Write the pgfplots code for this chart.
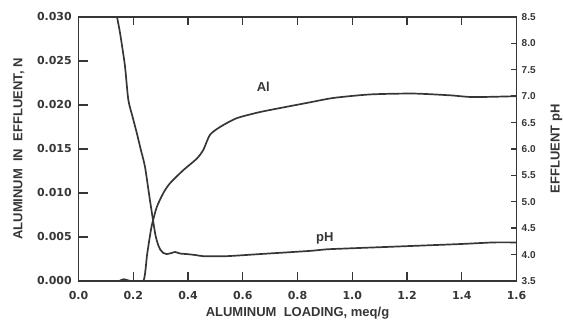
\documentclass[border=0pt]{standalone}
\usepackage{pgfplots}
\pgfplotsset{compat=1.18}
\usepackage{fontspec}
\setmainfont{Liberation Sans}
\newfontfamily\tickfont{DejaVu Sans}
\definecolor{ink}{HTML}{363636}
\newcommand{\lblfont}{\bfseries\fontsize{13}{15}\selectfont}
\newcommand{\tkfont}{\tickfont\bfseries\fontsize{11}{13}\selectfont}
\newcommand{\tkfontR}{\bfseries\fontsize{10}{12}\selectfont}

\pgfplotsset{
  common/.style={
    scale only axis, width=438pt, height=264pt,
    xmin=0, xmax=1.6,
    axis line style={ink, line width=1.6pt},
    tick align=inside,
    every tick/.style={draw=ink, line width=1.4pt},
    every tick label/.append style={text=ink, inner sep=0pt},
    /pgf/number format/assume math mode=true,
  },
  tickline/.style={ink, line width=1.4pt, forget plot},
}

\begin{document}
\begin{tikzpicture}
% aluminium concentration, left scale
\begin{axis}[common,
  name=al,
  ymin=0, ymax=0.030,
  xtick={0,0.2,...,1.6},
  xtick pos=both,
  xticklabel pos=bottom,
  major tick length=8.5pt,
  x tick label style={font=\tkfont, anchor=north, yshift=-10.5pt,
    /pgf/number format/fixed, /pgf/number format/fixed zerofill,
    /pgf/number format/precision=1},
  ytick={0,0.005,...,0.030},
  ytick pos=left,
  y tick label style={font=\tkfont, anchor=east, xshift=-6.5pt,
    /pgf/number format/fixed, /pgf/number format/fixed zerofill,
    /pgf/number format/precision=3},
  scaled y ticks=false,
  xlabel={ALUMINUM\ \ LOADING, meq/g},
  ylabel={ALUMINUM\ \ IN\ \ EFFLUENT, N},
  xlabel style={font=\lblfont, text=ink, at={(axis description cs:0.5,0)},
    anchor=base, yshift=-35.5pt, inner sep=0pt},
  ylabel style={font=\lblfont, text=ink, at={(axis description cs:0,0.5)},
    anchor=center, yshift=59.5pt, inner sep=0pt},
]
% inward tick strokes: bottom and top edges (about 8pt long)
\pgfplotsinvokeforeach{0.2,0.4,0.6,0.8,1.0,1.2,1.4}{
  \addplot[tickline] coordinates {(#1,0) (#1,0.00091)};
  \addplot[tickline] coordinates {(#1,0.030) (#1,0.02909)};
}
% inward tick strokes: left edge (about 9pt long)
\pgfplotsinvokeforeach{0.005,0.010,0.015,0.020,0.025}{
  \addplot[tickline] coordinates {(0,#1) (0.033,#1)};
}
\addplot[ink, line width=1.7pt, smooth, tension=0.4] coordinates {
  (0.000,0.0000) (0.140,0.0000) (0.155,0.0001) (0.165,0.0002) (0.178,0.0001)
  (0.190,0.0000) (0.237,0.0000) (0.251,0.0031) (0.267,0.0062) (0.286,0.0084)
  (0.310,0.0100) (0.334,0.0111) (0.383,0.0126) (0.432,0.0139) (0.456,0.0149)
  (0.480,0.0166) (0.517,0.0175) (0.578,0.0185) (0.663,0.0192) (0.761,0.0198)
  (0.845,0.0203) (0.931,0.0208) (1.065,0.0212) (1.223,0.0213) (1.357,0.0211)
  (1.442,0.0209) (1.600,0.0210)
};
\node[font=\lblfont, text=ink] at (axis cs:0.675,0.0221) {Al};
\node[font=\lblfont, text=ink] at (axis cs:0.90,0.00485) {pH};
\end{axis}

% effluent pH, right scale
\begin{axis}[common,
  at={(al.south west)}, anchor=south west,
  ymin=3.5, ymax=8.5,
  axis x line=none,
  axis y line*=right,
  ytick={3.5,4.0,...,8.5},
  ytick pos=right,
  major tick length=5.5pt,
  y tick label style={font=\tkfontR, anchor=west, xshift=5pt,
    /pgf/number format/fixed, /pgf/number format/fixed zerofill,
    /pgf/number format/precision=1},
  ylabel={EFFLUENT pH},
  ylabel style={font=\lblfont, text=ink, at={(axis description cs:1,0.5)},
    anchor=center, yshift=-40pt, inner sep=0pt},
]
% inward tick strokes: right edge (about 5.5pt long)
\pgfplotsinvokeforeach{4.0,4.5,5.0,5.5,6.0,6.5,7.0,7.5,8.0}{
  \addplot[tickline] coordinates {(1.6,#1) (1.58,#1)};
}
\addplot[ink, line width=1.7pt, smooth, tension=0.4] coordinates {
  (0.137,8.60) (0.150,8.25) (0.158,7.99) (0.170,7.56) (0.182,6.93)
  (0.198,6.60) (0.213,6.30) (0.228,5.98) (0.243,5.66) (0.261,5.03)
  (0.280,4.40) (0.290,4.20) (0.298,4.10) (0.310,4.03) (0.322,4.01)
  (0.340,4.03) (0.353,4.05) (0.371,4.02) (0.395,4.01) (0.430,3.99)
  (0.456,3.97) (0.541,3.97) (0.663,4.01) (0.845,4.07) (0.907,4.10)
  (1.000,4.12) (1.150,4.15) (1.394,4.20) (1.515,4.23) (1.600,4.23)
};
\end{axis}
% page margins around the frame
\path[use as bounding box] (al.south west) ++(-78.5pt,-39pt) rectangle ++(563pt,320pt);
\end{tikzpicture}
\end{document}
